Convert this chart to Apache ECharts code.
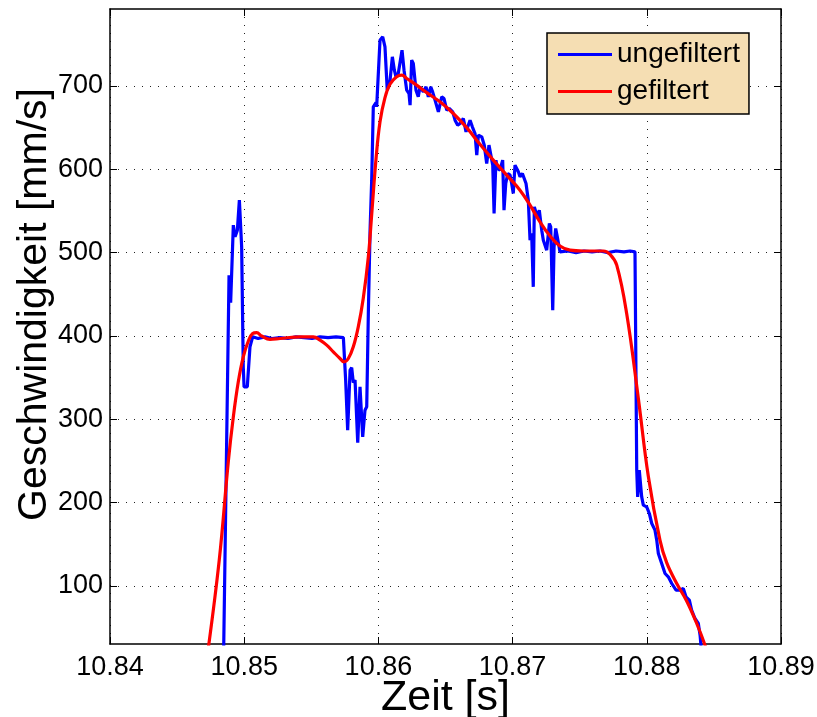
<!DOCTYPE html>
<html><head><meta charset="utf-8">
<script src="https://cdn.jsdelivr.net/npm/echarts@6/dist/echarts.min.js"></script>
<style>html,body{margin:0;padding:0;background:#fff}#c{width:817px;height:717px}</style>
</head><body><div id="c"></div>
<script>
// Data (time in seconds, speed in mm/s)
const rawT = [10.84845,10.84887,10.84899,10.84919,10.84932,10.84949,10.84964,10.84981,10.84993,10.84999,10.85023,10.85043,10.85063,
10.85103,10.85155,10.85207,10.85267,10.85326,10.85386,10.85446,10.85505,10.85565,10.85625,10.85684,10.85739,
10.85756,10.85771,10.85789,10.85801,10.85813,10.85826,10.85846,10.85863,10.85883,10.85900,10.85913,10.85925,10.85938,10.85950,
10.85962,10.85982,10.85987,10.86012,10.86032,10.86049,10.86066,10.86087,10.86104,10.86119,10.86131,10.86148,10.86176,10.86191,
10.86211,10.86228,10.86236,10.86248,10.86260,10.86280,10.86297,10.86310,10.86323,10.86335,10.86355,10.86372,10.86390,10.86404,
10.86422,10.86447,10.86472,10.86489,10.86509,10.86528,10.86554,10.86571,10.86591,10.86608,10.86633,10.86653,10.86683,10.86700,
10.86720,10.86733,10.86745,10.86770,10.86789,10.86807,10.86824,10.86837,10.86852,10.86862,10.86876,10.86886,10.86906,10.86926,
10.86936,10.86949,10.86964,10.86981,10.86993,10.87005,10.87018,10.87031,10.87043,10.87055,10.87073,10.87085,10.87100,10.87117,
10.87130,10.87142,10.87154,10.87162,10.87175,10.87184,10.87199,10.87217,10.87229,10.87254,10.87274,10.87284,10.87299,10.87309,
10.87321,10.87333,10.87353,10.87413,10.87473,10.87532,10.87592,10.87651,10.87711,10.87771,10.87830,10.87875,10.87912,
10.87925,10.87932,10.87944,10.87962,10.87974,10.87999,10.88019,10.88037,10.88061,10.88074,10.88086,10.88111,10.88136,10.88160,
10.88186,10.88218,10.88248,10.88272,10.88292,10.88317,10.88334,10.88359,10.88384,10.88397,10.88419];
const rawV = [0,473,440,533,519,527,563,507,363,339,339,387,399,
397,399,397,398,397,399,398,397,399,398,399,398,
347,287,359,362,344,347,272,339,279,311,315,427,527,587,
675,680,675,755,759,747,695,707,735,719,711,715,743,719,
695,691,677,731,727,695,687,699,701,693,699,687,699,693,
683,669,687,685,671,673,669,659,653,655,661,645,659,651,
643,617,641,639,629,607,629,631,605,547,611,601,599,611,
551,583,595,593,583,571,605,607,597,591,595,593,583,563,
515,523,459,555,557,543,551,527,515,503,535,531,431,507,
529,519,501,502,500,502,501,502,500,502,501,502,501,
239,207,239,207,197,195,187,175,167,155,139,127,115,111,
103,95,95,97,87,83,71,61,55,41,0];

const filtT = [10.84723,10.84814,10.84882,10.84919,10.84956,10.84993,10.85031,10.85063,10.85093,10.85130,10.85192,10.85267,
10.85416,10.85515,10.85565,10.85615,10.85664,10.85714,10.85744,10.85776,10.85813,10.85850,10.85887,10.85925,10.85952,
10.85982,10.86012,10.86049,10.86086,10.86136,10.86174,10.86211,10.86285,10.86360,10.86459,10.86558,10.86658,10.86757,
10.86856,10.86956,10.87055,10.87130,10.87204,10.87279,10.87353,10.87428,10.87527,10.87676,10.87726,10.87776,
10.87850,10.87937,10.88011,10.88098,10.88148,10.88223,10.88297,10.88372,
10.88434,10.88449];
const filtV = [14,131,250,303,345,375,394,403,404,400,396,397,
399,399,395,389,381,373,369,373,387,411,445,495,550,
612,657,686,702,711,713,709,701,692,681,667,650,630,
611,593,575,557,537,520,508,503,502,502,498,485,
427,325,232,155,128,103,82,55,
29,20];

const xTicks = [10.84,10.85,10.86,10.87,10.88,10.89];
const yTicks = [100,200,300,400,500,600,700];
const seriesNames = ['ungefiltert','gefiltert'];

const FONT = 'Liberation Sans, Arial, Helvetica, sans-serif';
const X_MIN = 10.84, X_MAX = 10.89, Y_MIN = 30.4, Y_MAX = 792.4;

function pairs(t, v){ return t.map((x,i)=>[x, v[i]]); }

const gridLine = {show:true, lineStyle:{color:'#222', width:1, type:[1,7]}};
const axLine = {show:true, onZero:false, lineStyle:{color:'#000', width:1.5}};
const tick = (vals)=>({show:true, inside:true, length:7, customValues: vals, lineStyle:{color:'#000', width:1}});

const chart = echarts.init(document.getElementById('c'), null, {renderer:'canvas'});
chart.setOption({
  animation:false,
  backgroundColor:'#fff',
  grid:{left:110, top:9, right:36, bottom:73, containLabel:false, outerBoundsMode:'none'},
  legend:{
    orient:'vertical', left:547, top:33,
    data: seriesNames.map(n=>({name:n, icon:'rect'})),
    backgroundColor:'#F5DEB3', borderColor:'#000', borderWidth:1.5, borderRadius:0,
    padding:[6,9,7,11], itemGap:6, itemWidth:54, itemHeight:3,
    textStyle:{fontFamily:FONT, fontSize:28, color:'#000', lineHeight:31}
  },
  xAxis:[{
    type:'value', min:X_MIN, max:X_MAX, position:'bottom',
    axisLine:axLine, axisTick:tick(xTicks), splitLine:gridLine,
    axisLabel:{customValues:xTicks, formatter:(v)=>v.toFixed(2), fontFamily:FONT, fontSize:27, color:'#000', margin:10},
    name:'Zeit [s]', nameLocation:'middle', nameGap:33, nameMoveOverlap:false,
    nameTextStyle:{fontFamily:FONT, fontSize:43, color:'#000'}
  },{
    type:'value', min:X_MIN, max:X_MAX, position:'top',
    axisLine:axLine, axisTick:tick(xTicks), splitLine:{show:false},
    axisLabel:{show:false, customValues:xTicks}
  }],
  yAxis:[{
    type:'value', min:Y_MIN, max:Y_MAX, position:'left',
    axisLine:axLine, axisTick:tick(yTicks), splitLine:gridLine,
    axisLabel:{customValues:yTicks, fontFamily:FONT, fontSize:27, color:'#000', margin:7},
    name:'Geschwindigkeit [mm/s]', nameLocation:'middle', nameGap:55, nameMoveOverlap:false,
    nameTextStyle:{fontFamily:FONT, fontSize:41, color:'#000', padding:[0,0,0,44]}
  },{
    type:'value', min:Y_MIN, max:Y_MAX, position:'right',
    axisLine:axLine, axisTick:tick(yTicks), splitLine:{show:false},
    axisLabel:{show:false, customValues:yTicks}
  }],
  series:[{
    name:seriesNames[0], type:'line', data:pairs(rawT, rawV),
    symbol:'none', clip:true, lineStyle:{color:'#0000FF', width:3.2}, itemStyle:{color:'#0000FF'}, z:3
  },{
    name:seriesNames[1], type:'line', data:pairs(filtT, filtV),
    symbol:'none', clip:true, smooth:0.4,
    lineStyle:{color:'#FF0000', width:3.2}, itemStyle:{color:'#FF0000'}, z:4
  }]
});
</script></body></html>
